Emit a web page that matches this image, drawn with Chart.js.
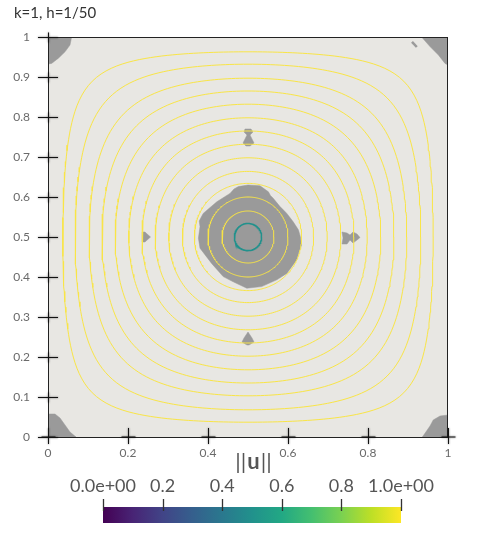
<!DOCTYPE html>
<html>
<head>
<meta charset="utf-8">
<script src="https://cdn.jsdelivr.net/npm/chart.js@4"></script>
<style>
  body { margin: 0; background: #fff; }
  #wrap { position: relative; width: 490px; height: 540px; }
  canvas { position: absolute; left: 0; }
</style>
</head>
<body>
<div id="wrap">
  <canvas id="field" width="490" height="470" style="top:0"></canvas>
  <canvas id="colorbar" width="490" height="95" style="top:445px"></canvas>
</div>
<script>
// axis ticks
const xTickValues = [0, 0.2, 0.4, 0.6, 0.8, 1];
const xTickLabels = ["0", "0.2", "0.4", "0.6", "0.8", "1"];
const yTickValues = [0, 0.1, 0.2, 0.3, 0.4, 0.5, 0.6, 0.7, 0.8, 0.9, 1];
const yTickLabels = ["0", "0.1", "0.2", "0.3", "0.4", "0.5", "0.6", "0.7", "0.8", "0.9", "1"];
const cbTickValues = [0, 0.2, 0.4, 0.6, 0.8, 1];
const cbTickLabels = ["0.0e+00", "0.2", "0.4", "0.6", "0.8", "1.0e+00"];

// iso-lines, given by their half width along the centre line
const tealContour = [0.034];
const yellowContours = [0.065, 0.1, 0.134, 0.164, 0.198, 0.232, 0.265, 0.298, 0.332, 0.365, 0.397, 0.432, 0.463];

// grey regions, [x, y] vertices
const centreBlob = [
  [0.476, 0.626], [0.5, 0.63], [0.53, 0.628], [0.551, 0.613], [0.556, 0.604], [0.563, 0.597],
  [0.58, 0.576], [0.59, 0.566], [0.597, 0.559], [0.613, 0.538], [0.626, 0.518], [0.631, 0.5],
  [0.634, 0.48], [0.627, 0.462], [0.622, 0.443], [0.597, 0.409], [0.572, 0.393], [0.534, 0.376],
  [0.497, 0.372], [0.463, 0.388], [0.438, 0.401], [0.409, 0.434], [0.38, 0.472], [0.376, 0.497],
  [0.38, 0.526], [0.378, 0.54], [0.388, 0.559], [0.422, 0.588], [0.455, 0.609], [0.465, 0.62],
];
const topBlob = [
  [0.4925, 0.77], [0.5075, 0.77], [0.5125, 0.7625], [0.505, 0.755], [0.51, 0.745], [0.515, 0.735],
  [0.505, 0.7275], [0.495, 0.7275], [0.4875, 0.735], [0.4925, 0.745], [0.4975, 0.755], [0.49, 0.7625],
];
const bottomBlob = [
  [0.5, 0.2625], [0.51, 0.2475], [0.515, 0.2375], [0.5025, 0.23], [0.4975, 0.23], [0.485, 0.2375], [0.49, 0.2475],
];
const rightBlob = [
  [0.735, 0.5125], [0.7475, 0.51], [0.755, 0.505], [0.7625, 0.5125], [0.7725, 0.5075], [0.78, 0.49875],
  [0.7725, 0.4925], [0.7625, 0.485], [0.755, 0.4925], [0.7475, 0.4825], [0.735, 0.4825], [0.7375, 0.4975],
];
const leftBlob = [
  [0.235, 0.5125], [0.2425, 0.5125], [0.245, 0.51], [0.25625, 0.5], [0.245, 0.49], [0.2425, 0.4875],
  [0.235, 0.4875], [0.23625, 0.5],
];
const cornerTopLeft = [[0, 1], [0.059, 1], [0.055, 0.98], [0.0425, 0.963], [0.026, 0.947], [0.009, 0.934], [0, 0.9325]];
const cornerTopRight = [[0.934, 1], [0.955, 0.976], [0.976, 0.955], [0.9925, 0.934], [1, 0.93], [1, 1]];
const cornerBottomLeft = [[0, 0], [0, 0.0575], [0.0175, 0.0575], [0.03, 0.0475], [0.0425, 0.03], [0.055, 0.0125], [0.07, 0]];
const cornerBottomRight = [[0.936, 0], [0.955, 0.0275], [0.963, 0.0425], [0.98, 0.0525], [1, 0.055], [1, 0]];
const smallDash = [[0.91, 0.988], [0.922, 0.975]];

const viridis = ["#440154", "#482475", "#414487", "#355f8d", "#2a788e", "#21918c",
                 "#22a884", "#44bf70", "#7ad151", "#bddf26", "#fde725"];

Chart.defaults.font.family = "Lato, 'Open Sans', sans-serif";
Chart.defaults.animation = false;

// walk round the centre and find where the field sin(pi x) sin(pi y) crosses the level
function traceContour(halfWidth) {
  const level = Math.cos(Math.PI * halfWidth);
  const pts = [];
  for (let i = 0; i <= 240; i++) {
    const t = (i / 240) * 2 * Math.PI;
    const dx = Math.cos(t), dy = Math.sin(t);
    let lo = 0, hi = 0.5 / Math.max(Math.abs(dx), Math.abs(dy));
    for (let k = 0; k < 30; k++) {
      const mid = (lo + hi) / 2;
      const f = Math.sin(Math.PI * (0.5 + mid * dx)) * Math.sin(Math.PI * (0.5 + mid * dy));
      if (f > level) lo = mid; else hi = mid;
    }
    pts.push({ x: 0.5 + lo * dx, y: 0.5 + lo * dy });
  }
  return pts;
}

function toPoints(list) {
  return list.map(([x, y]) => ({ x, y }));
}

const contourSets = [
  ...tealContour.map((a) => ({ data: traceContour(a), borderColor: "#21918c", borderWidth: 1.5 })),
  ...yellowContours.map((a) => ({ data: traceContour(a), borderColor: "#f9e546", borderWidth: 1 })),
];

const greySets = [centreBlob, topBlob, bottomBlob, rightBlob, leftBlob,
                  cornerTopLeft, cornerTopRight, cornerBottomLeft, cornerBottomRight].map((poly) => ({
  data: toPoints([...poly, poly[0]]),
  borderColor: "#9a9a9a",
  borderWidth: 0.5,
  backgroundColor: "#9a9a9a",
  fill: "shape",
}));

const dashSet = { data: toPoints(smallDash), borderColor: "#9a9a9a", borderWidth: 2.5 };

const fieldDecor = {
  id: "fieldDecor",
  beforeDraw(chart) {
    const { ctx, chartArea: a } = chart;
    ctx.save();
    ctx.fillStyle = "#e8e7e3";
    ctx.fillRect(a.left, a.top, a.right - a.left, a.bottom - a.top);
    ctx.restore();
  },
  afterDraw(chart) {
    const { ctx, chartArea: a, scales } = chart;
    ctx.save();
    ctx.strokeStyle = "#222";
    ctx.lineWidth = 1;
    ctx.strokeRect(a.left + 0.5, a.top + 0.5, a.right - a.left - 1, a.bottom - a.top);
    ctx.shadowColor = "rgba(0,0,0,0.7)";
    ctx.shadowBlur = 2;
    ctx.strokeStyle = "#111";
    ctx.lineWidth = 1;
    ctx.beginPath();
    scales.y.ticks.forEach((t) => {
      const py = Math.round(scales.y.getPixelForValue(t.value)) + 0.5;
      ctx.moveTo(a.left - 10, py);
      ctx.lineTo(a.left + 10, py);
      ctx.moveTo(a.left + 0.5, py - 5);
      ctx.lineTo(a.left + 0.5, py + 5);
    });
    scales.x.ticks.forEach((t) => {
      const px = Math.round(scales.x.getPixelForValue(t.value)) + 0.5;
      ctx.moveTo(px, a.bottom - 9);
      ctx.lineTo(px, a.bottom + 7);
      ctx.moveTo(px - 7, a.bottom);
      ctx.lineTo(px + 7, a.bottom);
    });
    ctx.stroke();
    ctx.shadowBlur = 0;
    ctx.fillStyle = "#333";
    ctx.font = "15px Lato, 'Open Sans', sans-serif";
    ctx.textBaseline = "alphabetic";
    ctx.fillText("k=1, h=1/50", 14, 18);
    ctx.restore();
  },
};

new Chart(document.getElementById("field"), {
  type: "line",
  data: { datasets: [...contourSets, ...greySets, dashSet] },
  options: {
    responsive: false,
    layout: { padding: { top: 37, right: 42, left: 0, bottom: 0 } },
    elements: { point: { radius: 0 }, line: { tension: 0 } },
    plugins: { legend: { display: false }, tooltip: { enabled: false } },
    scales: {
      x: {
        type: "linear",
        min: 0,
        max: 1,
        afterBuildTicks: (s) => { s.ticks = xTickValues.map((v) => ({ value: v })); },
        afterFit: (s) => { s.height = 33; },
        ticks: { callback: (v, i) => xTickLabels[i], color: "#6a6a6a", font: { size: 12 }, padding: 1, maxRotation: 0, autoSkip: false },
        grid: { display: false },
        border: { display: false },
      },
      y: {
        type: "linear",
        min: 0,
        max: 1,
        afterBuildTicks: (s) => { s.ticks = yTickValues.map((v) => ({ value: v })); },
        afterFit: (s) => { s.width = 48; },
        ticks: { callback: (v, i) => yTickLabels[i], color: "#6a6a6a", font: { size: 12 }, padding: 10, autoSkip: false },
        grid: { display: false },
        border: { display: false },
      },
    },
  },
  plugins: [fieldDecor],
});

const colorbarDecor = {
  id: "colorbarDecor",
  afterDraw(chart) {
    const { ctx, chartArea: a, scales } = chart;
    ctx.save();
    ctx.strokeStyle = "#333";
    ctx.lineWidth = 1.3;
    ctx.beginPath();
    scales.x.ticks.forEach((t) => {
      const px = Math.round(scales.x.getPixelForValue(t.value)) + 0.5;
      ctx.moveTo(px, a.top - 8);
      ctx.lineTo(px, a.top + 4);
    });
    ctx.stroke();
    // title ||u|| with a bold u
    const parts = [["||", "normal"], ["u", "bold"], ["||", "normal"]];
    const size = 22;
    let total = 0;
    parts.forEach(([s, w]) => {
      ctx.font = `${w} ${size}px Lato, 'Open Sans', sans-serif`;
      total += ctx.measureText(s).width + 1;
    });
    let x = 254 - total / 2;
    ctx.fillStyle = "#555";
    ctx.textBaseline = "middle";
    parts.forEach(([s, w]) => {
      ctx.font = `${w} ${size}px Lato, 'Open Sans', sans-serif`;
      ctx.fillText(s, x, 17);
      x += ctx.measureText(s).width + 1;
    });
    ctx.restore();
  },
};

new Chart(document.getElementById("colorbar"), {
  type: "bar",
  data: {
    labels: ["||u||"],
    datasets: [{
      data: [[cbTickValues[0], cbTickValues[cbTickValues.length - 1]]],
      backgroundColor: (c) => {
        const a = c.chart.chartArea;
        if (!a) return viridis[0];
        const g = c.chart.ctx.createLinearGradient(a.left, 0, a.right, 0);
        viridis.forEach((col, i) => g.addColorStop(i / (viridis.length - 1), col));
        return g;
      },
      barPercentage: 1,
      categoryPercentage: 1,
    }],
  },
  options: {
    indexAxis: "y",
    responsive: false,
    layout: { padding: { top: 0, left: 103, right: 89, bottom: 17 } },
    plugins: { legend: { display: false }, tooltip: { enabled: false } },
    scales: {
      x: {
        type: "linear",
        position: "top",
        min: 0,
        max: 1,
        afterBuildTicks: (s) => { s.ticks = cbTickValues.map((v) => ({ value: v })); },
        afterFit: (s) => { s.height = 62; },
        ticks: { callback: (v, i) => cbTickLabels[i], color: "#555", font: { size: 18 }, padding: 2, maxRotation: 0, autoSkip: false },
        grid: { display: false },
        border: { display: false },
      },
      y: { display: false },
    },
  },
  plugins: [colorbarDecor],
});
</script>
</body>
</html>
